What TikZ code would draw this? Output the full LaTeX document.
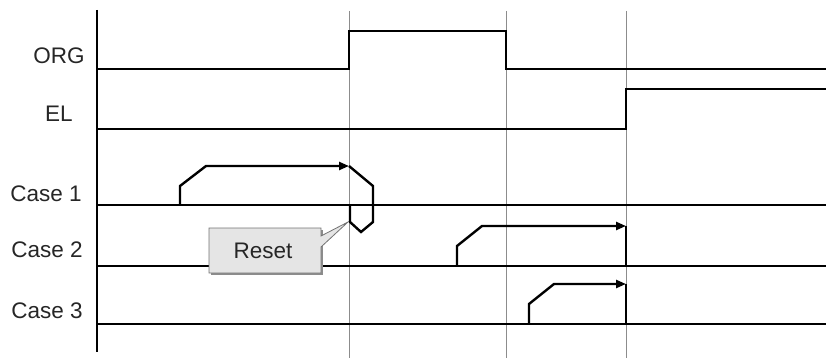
\documentclass[tikz,border=0pt]{standalone}
\usepackage{fontspec}
\setmainfont{Liberation Sans}
\usetikzlibrary{arrows.meta}
\begin{document}
\begin{tikzpicture}[x=1pt,y=-1pt,
  lbl/.style={anchor=base,inner sep=0pt,font=\fontsize{22.5}{26}\selectfont,text=black!85},
  sig/.style={line width=1.4pt,black},
  grid/.style={line width=0.9pt,black!45},
  casepath/.style={line width=2.4pt,black,line join=miter},
  arr/.style={-{Triangle[length=10pt,width=8pt]}},
  callout/.style={draw=black!55,fill=black!10,line width=0.8pt}
]
\useasboundingbox (0,0) rectangle (826,358);
% grid lines
\draw[grid] (349,11) -- (349,358);
\draw[grid] (506,11) -- (506,358);
\draw[grid] (626,11) -- (626,358);
% axis
\draw[line width=1.4pt] (97,10) -- (97,352);
% labels
\node[lbl] (org) at (59,64) {ORG};
\node[lbl] (el) at (59,122) {EL};
\node[lbl] (c1) at (46,201) {Case 1};
\node[lbl] (c2) at (47,257) {Case 2};
\node[lbl] (c3) at (47,318) {Case 3};
% signals
\draw[sig] (97,69) -- (349,69) -- (349,31) -- (506,31) -- (506,69) -- (826,69);
\draw[sig] (97,129) -- (626,129) -- (626,89) -- (826,89);
\draw[sig] (97,205) -- (826,205);
\draw[sig] (97,266) -- (826,266);
\draw[sig] (97,324) -- (826,324);
% callout
\fill[black!45] (211,230) -- (323,230) -- (323,275) -- (211,275) -- cycle;
\draw[callout] (209,228) -- (321,228) -- (321,236) -- (348,222) -- (321,247) -- (321,273) -- (209,273) -- cycle;
\node[lbl] (reset) at (263,258) {Reset};
% case 1
\coordinate (a1) at (180,205);
\coordinate (a1e) at (349,166);
\draw[casepath,arr] (a1) -- (180,186) -- (206,166) -- (a1e);
\draw[casepath] (a1e) -- (373,186) -- (373,222) -- (361,232) -- (350,222) -- (350,205);
% case 2
\coordinate (a2) at (457,266);
\coordinate (a2e) at (626,226);
\draw[casepath,arr] (a2) -- (457,246) -- (482,226) -- (a2e);
\draw[casepath] (a2e) -- (626,266);
% case 3
\coordinate (a3) at (529,324);
\coordinate (a3e) at (626,284);
\draw[casepath,arr] (a3) -- (529,304) -- (554,284) -- (a3e);
\draw[casepath] (a3e) -- (626,324);
\end{tikzpicture}
\end{document}
